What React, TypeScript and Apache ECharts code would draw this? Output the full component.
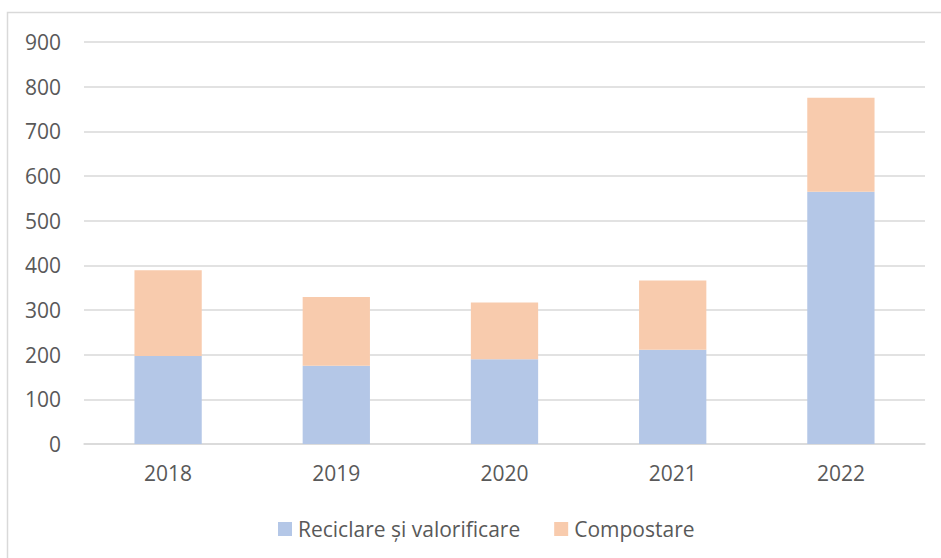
import React, { useEffect, useRef } from "react";
import * as echarts from "echarts";

const categories = ["2018", "2019", "2020", "2021", "2022"];
const reciclare = [197, 175, 190, 211, 565];
const compostare = [192, 154, 127, 155, 210];
const seriesNames = ["Reciclare și valorificare", "Compostare"];

const FONT = "'Open Sans', sans-serif";
const FS = 21;

export default function App() {
  const ref = useRef<HTMLDivElement>(null);
  useEffect(() => {
    if (!ref.current) return;
    const chart = echarts.init(ref.current, undefined, { renderer: "svg" });
    chart.setOption({
      animation: false,
      backgroundColor: "#ffffff",
      textStyle: { fontFamily: FONT },
      graphic: [
        {
          type: "rect",
          shape: { x: 7.5, y: 12.5, width: 960, height: 600 },
          style: { fill: "none", stroke: "#d9d9d9", lineWidth: 1.5 },
          silent: true,
        },
      ],
      grid: { left: 84, right: 16, top: 42, bottom: 114, containLabel: false },
      legend: {
        left: 273,
        top: 513.5,
        itemWidth: 14,
        itemHeight: 14,
        itemGap: 34,
        icon: "rect",
        textStyle: { fontFamily: FONT, fontSize: FS, color: "#595959", padding: [0, 0, 0, 1] },
        data: seriesNames,
      },
      xAxis: {
        type: "category",
        data: categories,
        axisLine: { show: true, lineStyle: { color: "#d9d9d9", width: 1.5 } },
        axisTick: { show: false },
        axisLabel: { fontFamily: FONT, fontSize: FS, color: "#595959", margin: 18 },
      },
      yAxis: {
        type: "value",
        min: 0,
        max: 900,
        interval: 100,
        axisLine: { show: false },
        axisTick: { show: false },
        splitLine: { lineStyle: { color: "#d9d9d9", width: 1.5 } },
        axisLabel: { fontFamily: FONT, fontSize: FS, color: "#595959", margin: 23 },
      },
      series: [
        {
          name: seriesNames[0],
          type: "bar",
          stack: "total",
          barWidth: "40%",
          data: reciclare,
          itemStyle: { color: "#b4c7e7" },
        },
        {
          name: seriesNames[1],
          type: "bar",
          stack: "total",
          barWidth: "40%",
          data: compostare,
          itemStyle: { color: "#f8cbad" },
        },
      ],
    });
    return () => chart.dispose();
  }, []);
  return (
    <div
      ref={ref}
      style={{ position: "fixed", left: 0, top: 0, width: 941, height: 558 }}
    />
  );
}
